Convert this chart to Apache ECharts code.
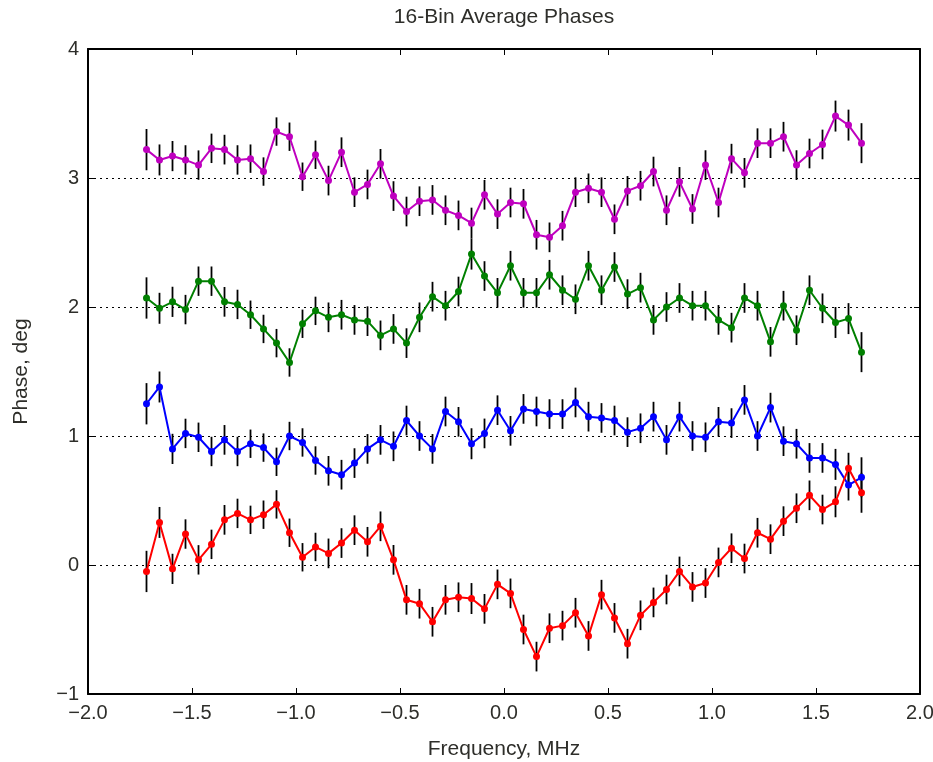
<!DOCTYPE html>
<html>
<head>
<meta charset="utf-8">
<script src="https://cdn.jsdelivr.net/npm/echarts@6/dist/echarts.min.js"></script>
<style>
html,body{margin:0;padding:0;background:#fff;overflow:hidden;}
#chart{width:933px;height:762px;}
</style>
</head>
<body>
<div id="chart"></div>
<script>
// Frequency bins (MHz)
const freq = [-1.71875,-1.65625,-1.59375,-1.53125,-1.46875,-1.40625,-1.34375,-1.28125,-1.21875,-1.15625,
  -1.09375,-1.03125,-0.96875,-0.90625,-0.84375,-0.78125,-0.71875,-0.65625,-0.59375,-0.53125,
  -0.46875,-0.40625,-0.34375,-0.28125,-0.21875,-0.15625,-0.09375,-0.03125,0.03125,0.09375,
  0.15625,0.21875,0.28125,0.34375,0.40625,0.46875,0.53125,0.59375,0.65625,0.71875,
  0.78125,0.84375,0.90625,0.96875,1.03125,1.09375,1.15625,1.21875,1.28125,1.34375,
  1.40625,1.46875,1.53125,1.59375,1.65625,1.71875];

const magentaPhase = [3.22,3.14,3.17,3.14,3.10,3.23,3.22,3.14,3.15,3.05,3.36,3.32,3.01,3.18,2.98,3.20,2.89,2.95,3.11,2.86,
  2.74,2.82,2.83,2.75,2.71,2.65,2.87,2.72,2.81,2.80,2.56,2.54,2.63,2.89,2.92,2.89,2.68,2.90,2.94,3.05,
  2.75,2.97,2.76,3.10,2.81,3.15,3.04,3.27,3.27,3.32,3.10,3.19,3.26,3.48,3.41,3.27];

const greenPhase = [2.07,1.99,2.04,1.98,2.20,2.20,2.04,2.02,1.94,1.83,1.72,1.57,1.87,1.97,1.92,1.94,1.90,1.89,1.78,1.83,
  1.72,1.92,2.08,2.01,2.12,2.41,2.24,2.11,2.32,2.11,2.11,2.25,2.13,2.06,2.32,2.13,2.31,2.10,2.15,1.90,
  2.00,2.07,2.01,2.01,1.90,1.84,2.07,2.01,1.73,2.01,1.82,2.13,1.99,1.88,1.91,1.65];

const bluePhase = [1.25,1.38,0.90,1.02,0.99,0.88,0.97,0.88,0.94,0.91,0.80,1.00,0.95,0.81,0.73,0.70,0.79,0.90,0.97,0.92,
  1.12,1.00,0.90,1.19,1.11,0.94,1.02,1.20,1.04,1.21,1.19,1.17,1.17,1.26,1.15,1.14,1.12,1.03,1.06,1.15,
  0.97,1.15,1.00,0.99,1.11,1.10,1.28,1.00,1.22,0.96,0.94,0.83,0.83,0.78,0.62,0.68];

const redPhase = [-0.05,0.33,-0.03,0.24,0.04,0.16,0.35,0.40,0.35,0.39,0.47,0.25,0.06,0.14,0.09,0.17,0.27,0.18,0.30,0.04,
  -0.27,-0.30,-0.44,-0.27,-0.25,-0.26,-0.34,-0.15,-0.22,-0.50,-0.71,-0.49,-0.47,-0.37,-0.55,-0.23,-0.41,-0.61,-0.39,-0.29,
  -0.19,-0.05,-0.17,-0.14,0.02,0.13,0.05,0.25,0.20,0.34,0.44,0.54,0.43,0.49,0.75,0.56];

// Half-length of error bars (deg), estimated
const errHalf = [0.16,0.12,0.117,0.114,0.114,0.114,0.115,0.114,0.11,0.11,0.11,0.11,0.11,0.11,0.115,0.115,0.115,0.115,0.115,0.115,
  0.115,0.115,0.115,0.115,0.115,0.12,0.115,0.115,0.115,0.115,0.115,0.115,0.115,0.115,0.115,0.115,0.115,0.115,0.115,0.115,
  0.115,0.115,0.115,0.115,0.115,0.115,0.115,0.115,0.115,0.115,0.115,0.115,0.115,0.12,0.12,0.155];

const xTicks = [-2,-1.5,-1,-0.5,0,0.5,1,1.5,2];
const yTicks = [-1,0,1,2,3,4];

const FONT = '"Liberation Sans", Arial, Helvetica, sans-serif';
const TXT = '#2e2e2a';

const seriesDefs = [
  {name:'m', values: magentaPhase, color:'#bf00bf'},
  {name:'g', values: greenPhase, color:'#008000'},
  {name:'b', values: bluePhase, color:'#0000ff'},
  {name:'r', values: redPhase, color:'#ff0000'}
];

const series = [];
seriesDefs.forEach(function(s){
  series.push({
    type:'custom', name: s.name + '-err', z: 2, clip: true,
    data: freq.map(function(f,i){ return [f, s.values[i], errHalf[i]]; }),
    encode:{x:0, y:1},
    renderItem: function(params, api){
      const x = api.value(0), y = api.value(1), e = api.value(2);
      const p1 = api.coord([x, y - e]);
      const p2 = api.coord([x, y + e]);
      return {type:'line', shape:{x1:p1[0], y1:p1[1], x2:p2[0], y2:p2[1]},
        style:{stroke:'#000', lineWidth:1.8}};
    }
  });
});
seriesDefs.forEach(function(s){
  series.push({
    type:'line', name: s.name, z: 3,
    data: freq.map(function(f,i){ return [f, s.values[i]]; }),
    symbol:'circle', symbolSize:7, showSymbol:true,
    lineStyle:{color:s.color, width:2},
    itemStyle:{color:s.color},
    emphasis:{disabled:true}
  });
});

const chart = echarts.init(document.getElementById('chart'), null, {renderer:'canvas'});
chart.setOption({
  animation:false,
  backgroundColor:'#fff',
  graphic:[{
    type:'text', x:504, y:17,
    style:{text:'16-Bin Average Phases', textAlign:'center', textVerticalAlign:'middle',
      font:'21px ' + FONT, fill:TXT}
  }],
  grid:{left:88, right:13, top:49, bottom:68, show:false, containLabel:false, outerBoundsMode:'none'},
  xAxis:[{
    type:'value', min:xTicks[0], max:xTicks[xTicks.length-1], interval:0.5, position:'bottom',
    axisLine:{show:true, onZero:false, lineStyle:{color:'#000', width:2}},
    axisTick:{show:true, inside:true, length:6, lineStyle:{color:'#000', width:1}},
    axisLabel:{fontSize:20, color:TXT, fontFamily:FONT, margin:9,
      formatter:function(v){ return v.toFixed(1).replace('-', '\u2212'); }},
    splitLine:{show:false},
    name:'Frequency, MHz', nameLocation:'middle', nameGap:45,
    nameTextStyle:{fontSize:21, color:TXT, fontFamily:FONT}
  },{
    type:'value', min:xTicks[0], max:xTicks[xTicks.length-1], interval:0.5, position:'top',
    axisLine:{show:true, onZero:false, lineStyle:{color:'#000', width:2}},
    axisTick:{show:true, inside:true, length:6, lineStyle:{color:'#000', width:1}},
    axisLabel:{show:false}, splitLine:{show:false}
  }],
  yAxis:[{
    type:'value', min:yTicks[0], max:yTicks[yTicks.length-1], interval:1, position:'left',
    axisLine:{show:true, onZero:false, lineStyle:{color:'#000', width:2}},
    axisTick:{show:true, inside:true, length:6, lineStyle:{color:'#000', width:1}},
    axisLabel:{fontSize:20, color:TXT, fontFamily:FONT, margin:9,
      formatter:function(v){ return String(v).replace('-', '\u2212'); }},
    splitLine:{show:true, lineStyle:{color:'#000', width:1.2, type:[2,4]}},
    name:'Phase, deg', nameLocation:'middle', nameGap:56, nameRotate:90,
    nameTextStyle:{fontSize:21, color:TXT, fontFamily:FONT}
  },{
    type:'value', min:yTicks[0], max:yTicks[yTicks.length-1], interval:1, position:'right',
    axisLine:{show:true, onZero:false, lineStyle:{color:'#000', width:2}},
    axisTick:{show:true, inside:true, length:6, lineStyle:{color:'#000', width:1}},
    axisLabel:{show:false}, splitLine:{show:false}
  }],
  series: series
});
</script>
</body>
</html>
